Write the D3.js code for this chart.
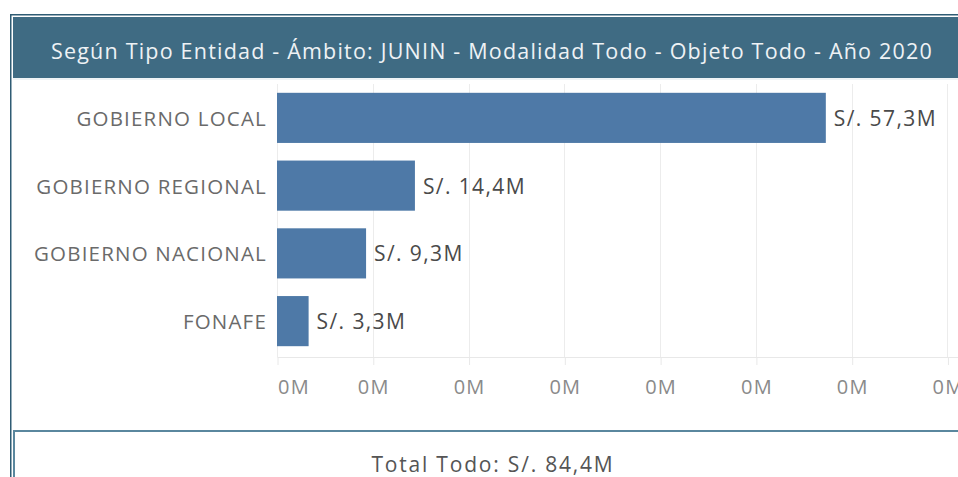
<!DOCTYPE html>
<html>
<head>
<meta charset="utf-8">
<script src="https://cdn.jsdelivr.net/npm/d3@7"></script>
<style>
  html, body { margin: 0; padding: 0; background: #fff; overflow: hidden; }
  svg { display: block; font-family: "Open Sans", "Noto Sans", sans-serif; }
</style>
</head>
<body>
<svg id="chart" width="958" height="477"></svg>
<script>
// ---- data ----
const titleText = "Según Tipo Entidad - Ámbito: JUNIN - Modalidad Todo - Objeto Todo - Año 2020";
const categories = ["GOBIERNO LOCAL", "GOBIERNO REGIONAL", "GOBIERNO NACIONAL", "FONAFE"];
const values = [57.3, 14.4, 9.3, 3.3];            // millions of soles
const valueLabels = ["S/. 57,3M", "S/. 14,4M", "S/. 9,3M", "S/. 3,3M"];
const tickValues = [0, 10, 20, 30, 40, 50, 60, 70];
const tickLabel = "0M";
const totalText = "Total Todo: S/. 84,4M";

// ---- layout ----
const W = 958, H = 477;
const svg = d3.select("#chart");

const x = d3.scaleLinear().domain([0, 71.1]).range([277, 958]);
const y = d3.scaleBand().domain(categories).range([84, 355]).paddingInner(0.26).paddingOuter(0.13);
const axisY = 357;

// outer frame
svg.append("rect").attr("x", 10.75).attr("y", 14.75).attr("width", W).attr("height", H)
  .attr("fill", "none").attr("stroke", "#2f5c74").attr("stroke-width", 1.5);

// header band
svg.append("rect").attr("x", 13).attr("y", 17).attr("width", W).attr("height", 61).attr("fill", "#3f6b83");
svg.append("line").attr("x1", 13).attr("x2", W).attr("y1", 79).attr("y2", 79)
  .attr("stroke", "#dfe8ec").attr("stroke-width", 1);
svg.append("text").attr("x", 492).attr("y", 50).attr("text-anchor", "middle")
  .attr("dominant-baseline", "central").attr("fill", "#eef2f5").attr("font-size", 21.5)
  .attr("letter-spacing", 1.2)
  .text(titleText);

// gridlines
svg.append("g").selectAll("line").data(tickValues).join("line")
  .attr("x1", d => Math.round(x(d)) + 0.5).attr("x2", d => Math.round(x(d)) + 0.5)
  .attr("y1", 84).attr("y2", axisY)
  .attr("stroke", "#ececec").attr("stroke-width", 1);

// axis
const axis = d3.axisBottom(x).tickValues(tickValues).tickFormat(() => tickLabel).tickSize(8).tickSizeOuter(0);
const ag = svg.append("g").attr("transform", `translate(0.5,${axisY})`).call(axis);
ag.select(".domain").attr("stroke", "#e8e8e8").attr("d", `M277,0.5H${W}`);
ag.selectAll(".tick line").attr("stroke", "#e8e8e8");
ag.selectAll(".tick text").attr("fill", "#8a8a8a").attr("font-size", 20).attr("font-family", "Open Sans")
  .attr("letter-spacing", 1.2)
  .attr("y", 37).attr("dy", "0")
  .attr("text-anchor", (d, i) => i === 0 ? "start" : "middle");

// bars
svg.append("g").selectAll("rect").data(values).join("rect")
  .attr("x", x(0)).attr("y", (d, i) => y(categories[i]))
  .attr("width", d => x(d) - x(0)).attr("height", y.bandwidth())
  .attr("fill", "#4e79a7");

// value labels
svg.append("g").selectAll("text").data(values).join("text")
  .attr("x", d => x(d) + 8).attr("y", (d, i) => y(categories[i]) + y.bandwidth() / 2)
  .attr("dominant-baseline", "central").attr("fill", "#4a4a4a").attr("font-size", 21)
  .attr("letter-spacing", 1.4)
  .text((d, i) => valueLabels[i]);

// category labels
svg.append("g").selectAll("text").data(categories).join("text")
  .attr("x", 267).attr("y", d => y(d) + y.bandwidth() / 2)
  .attr("text-anchor", "end").attr("dominant-baseline", "central")
  .attr("fill", "#6a6a6a").attr("font-size", 20.5).attr("letter-spacing", 1.2)
  .text(d => d);

// total box
svg.append("rect").attr("x", 14).attr("y", 431).attr("width", W).attr("height", 100)
  .attr("fill", "#fff").attr("stroke", "#5a879e").attr("stroke-width", 2);
svg.append("text").attr("x", 493).attr("y", 464).attr("text-anchor", "middle")
  .attr("dominant-baseline", "central").attr("fill", "#555").attr("font-size", 21)
  .attr("letter-spacing", 1.8)
  .text(totalText);
</script>
</body>
</html>
